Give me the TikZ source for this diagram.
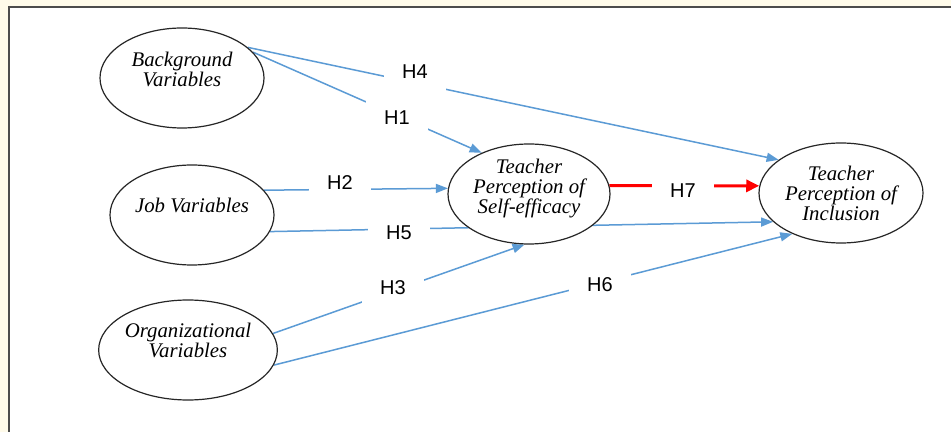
\documentclass[tikz,border=0pt]{standalone}
\usepackage{fontspec}
\setmainfont{Liberation Serif}
\setsansfont{Liberation Sans}
\usepackage{tikz}
\usetikzlibrary{shapes.geometric, arrows.meta, backgrounds}
\definecolor{linkblue}{HTML}{5B9BD5}
\definecolor{pagecream}{HTML}{FFFBEA}

\begin{document}
\begin{tikzpicture}[x=0.5pt, y=-0.5pt,
                construct/.style={ellipse, draw=black!85, line width=0.6pt, fill=white, inner sep=0pt, minimum width=82pt, minimum height=50pt, align=center, font=\itshape\fontsize{10.4}{10}\selectfont}, % Ellipse for each variable
                lift/.style={text depth=#1}, % Raise the text inside the ellipse
                link/.style={draw=linkblue, line width=0.75pt, -{Triangle[length=6pt, width=4.5pt]}}, % Blue paths
                keylink/.style={draw=red, line width=1.5pt, -{Triangle[length=6.5pt, width=6pt]}}, % Red path H7
                hyp/.style={fill=white, minimum width=31pt, minimum height=20pt, inner sep=0pt, font=\sffamily\fontsize{10}{12}\selectfont} % Hypothesis labels
                ]
                \useasboundingbox (0,0) rectangle (951,432);
                \node[construct, lift=8.3pt] (bg) at (182,78) {Background\\Variables};
                \node[construct, lift=10pt] (job) at (192,215) {Job Variables};
                \node[construct, lift=9.3pt, minimum width=87pt] (org) at (188,350) {Organizational\\Variables};
                \node[construct, lift=8pt, minimum width=81pt] (self) at (529,194) {Teacher\\Perception of\\Self-efficacy};
                \node[construct] (incl) at (841,193) {Teacher\\Perception of\\Inclusion};
                \begin{pgfonlayer}{background}
                \fill[pagecream] (0,0) rectangle (951,432);
                \fill[white] (9,7) rectangle (951,432);
                \draw[line width=1pt, black!70] (9,432) -- (9,7) -- (951,7);
                \draw[link] (bg.25) -- (incl.152);
                \draw[link] (bg.20) -- (self.139);
                \draw[link] (job.19) -- (self.176);
                \draw[link] (job.-12) -- (incl.-157);
                \draw[link] (org.11) -- (self.-95);
                \draw[link] (org.-10) -- (incl.-140);
                \draw[keylink] (self.6) -- (incl.175);
                \end{pgfonlayer}
                \node[hyp] (h4) at (415,72) {H4};
                \node[hyp] (h1) at (397,118) {H1};
                \node[hyp] (h2) at (340,183) {H2};
                \node[hyp] (h5) at (399,233) {H5};
                \node[hyp] (h3) at (393,288) {H3};
                \node[hyp] (h6) at (600,285) {H6};
                \node[hyp] (h7) at (683,191) {H7};
            \end{tikzpicture}
\end{document}
